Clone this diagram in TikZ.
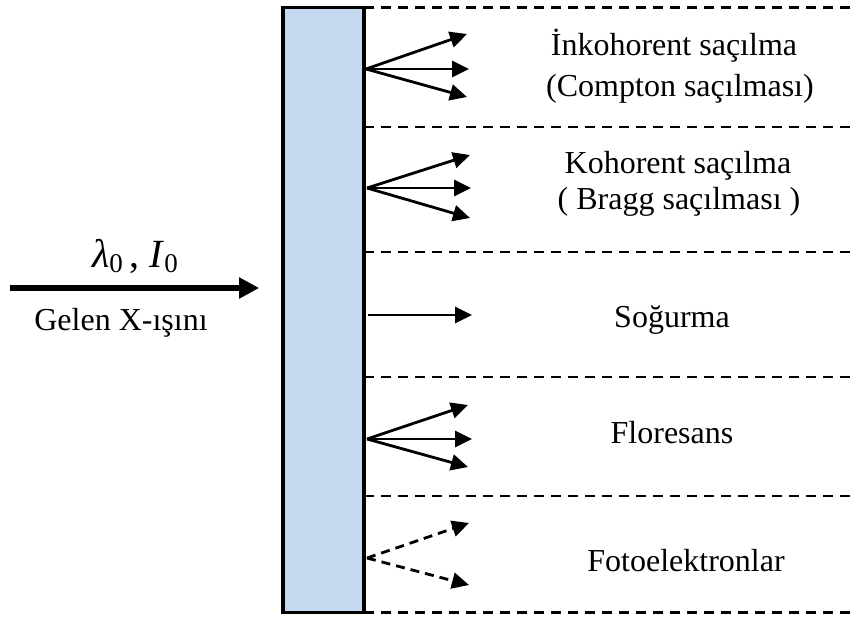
\documentclass[tikz,border=0pt]{standalone}
\usepackage{fontspec}
\setmainfont{Liberation Serif}
\usetikzlibrary{arrows.meta}
\definecolor{slabfill}{RGB}{198,217,241}
\newcommand{\lowsub}[1]{\raisebox{-0.3ex}{\fontsize{27}{27}\selectfont #1}}
\begin{document}
\begin{tikzpicture}[x=1pt,y=-1pt,
  ray/.style={line width=2.8pt,-{Triangle[length=17pt,width=16pt]}},
  dray/.style={ray,dash pattern=on 9pt off 6pt},
  sep/.style={line width=2.6pt,dash pattern=on 10pt off 7pt},
  lbl/.style={font=\fontsize{32}{38}\selectfont,anchor=base,inner sep=0pt}]
\useasboundingbox (0,0) rectangle (854,619);
% slab
\node[draw=black,line width=3.8pt,fill=slabfill,inner sep=0pt,
      minimum width=81pt,minimum height=605pt] (slab) at (323.5,310) {};
% separators
\foreach \yy in {7.5,127,252,377,496,612.5}
  \draw[sep] (364,\yy) -- (854,\yy);
% incoming beam
\coordinate (src) at (10,288);
\draw[line width=6pt,-{Triangle[length=20pt,width=20pt]},shorten >=22pt] (src) -- (slab.west |- src);
\node[lbl,font=\fontsize{40}{46}\selectfont] (lam) at (135,267) {\textit{λ}\lowsub{0}\,, \textit{I}\lowsub{0}};
\node[lbl] (gelen) at (121,330) {Gelen X-ışını};
% group 1
\coordinate (o1) at (366,69);
\coordinate (t1a) at (467,34);
\coordinate (t1b) at (469,69);
\coordinate (t1c) at (467,97);
\draw[ray] (o1) -- (t1a);
\draw[ray] (o1) -- (t1b);
\draw[ray] (o1) -- (t1c);
% group 2
\coordinate (o2) at (367,188);
\coordinate (t2a) at (470,155);
\coordinate (t2b) at (471,188);
\coordinate (t2c) at (470,218);
\draw[ray] (o2) -- (t2a);
\draw[ray] (o2) -- (t2b);
\draw[ray] (o2) -- (t2c);
% absorption
\coordinate (o3) at (368,315);
\coordinate (t3) at (472,315);
\draw[ray] (o3) -- (t3);
% fluorescence
\coordinate (o4) at (367,439);
\coordinate (t4a) at (468,405);
\coordinate (t4b) at (472,439);
\coordinate (t4c) at (468,467);
\draw[ray] (o4) -- (t4a);
\draw[ray] (o4) -- (t4b);
\draw[ray] (o4) -- (t4c);
% photoelectrons
\coordinate (o5) at (367,558);
\coordinate (t5a) at (469,523);
\coordinate (t5b) at (469,585);
\draw[dray] (o5) -- (t5a);
\draw[dray] (o5) -- (t5b);
% labels
\node[lbl] (inko) at (674,55) {İnkohorent saçılma};
\node[lbl] (compton) at (680,96) {(Compton saçılması)};
\node[lbl] (koh) at (678,173) {Kohorent saçılma};
\node[lbl] (bragg) at (679,209) {( Bragg saçılması )};
\node[lbl] (sog) at (672,327) {Soğurma};
\node[lbl] (flo) at (672,443) {Floresans};
\node[lbl] (foto) at (686,571) {Fotoelektronlar};
\end{tikzpicture}
\end{document}
